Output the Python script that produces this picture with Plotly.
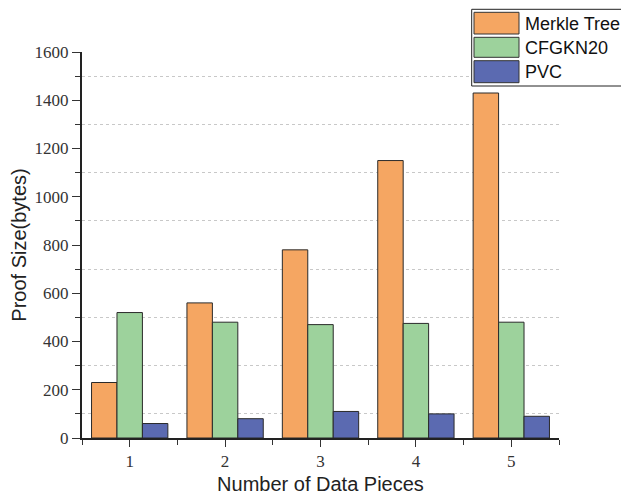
import plotly.graph_objects as go

categories = [1, 2, 3, 4, 5]
series_names = ["Merkle Tree", "CFGKN20", "PVC"]
merkle = [230, 560, 780, 1150, 1430]
cfgkn20 = [520, 480, 470, 475, 480]
pvc = [60, 80, 110, 100, 90]
y_ticks = [0, 200, 400, 600, 800, 1000, 1200, 1400, 1600]

colors = ["#F5A662", "#9DD29C", "#5B6AB1"]
series = [merkle, cfgkn20, pvc]

fig = go.Figure()
for name, vals, col in zip(series_names, series, colors):
    fig.add_trace(go.Bar(
        x=categories, y=vals, name=name,
        marker=dict(color=col, line=dict(color="#2a2a2a", width=1)),
        showlegend=False,
    ))

# page offset of the figure (default body margin of the html page)
OFF = 8
# plot area in page pixels
L, R, T, B = 82, 559, 52, 438
W, H = 629 - OFF, 495 - OFF

def px(x):
    return (x - L) / (R - L)

def py(y):
    return (B - y) / (B - T)

bx0, bx1, by0, by1 = px(471.7), px(680), py(86), py(9.3)
shapes = [
    dict(type="rect", xref="paper", yref="paper", x0=bx0, x1=bx1, y0=by0, y1=by1,
         line=dict(width=0), fillcolor="white", layer="above"),
    dict(type="path", xref="paper", yref="paper",
         path=f"M {bx1},{by1} L {bx0},{by1} L {bx0},{by0} L {bx1},{by0}",
         line=dict(color="#222", width=1), layer="above"),
]
annotations = []
rows = [(12.3, 34), (37.3, 57.3), (60.7, 82.7)]
for (t, b), name, col in zip(rows, series_names, colors):
    shapes.append(dict(type="rect", xref="paper", yref="paper",
                       x0=px(474), x1=px(519), y0=py(b), y1=py(t),
                       line=dict(color="#333", width=1), fillcolor=col, layer="above"))
    annotations.append(dict(xref="paper", yref="paper", x=px(523), y=py((t + b) / 2 + 0.5),
                            xanchor="left", yanchor="middle", text=name, showarrow=False,
                            font=dict(family="Liberation Sans, Arial", size=18, color="#111")))

fig.update_layout(
    width=W, height=H,
    margin=dict(l=L - OFF, r=W - (R - OFF), t=T - OFF, b=H - (B - OFF), pad=0, autoexpand=False),
    plot_bgcolor="white", paper_bgcolor="white",
    barmode="group", bargap=0.2, bargroupgap=0,
    shapes=shapes, annotations=annotations,
    xaxis=dict(
        range=[0.5, 5.5], tickmode="array", tickvals=categories,
        ticktext=[str(c) for c in categories], automargin=False,
        ticks="outside", ticklen=7, tickwidth=1.2, tickcolor="#333",
        showline=True, linecolor="#222", linewidth=2, showgrid=False, zeroline=False,
        tickfont=dict(family="Liberation Serif, Times New Roman, serif", size=17, color="#333"),
        minor=dict(tickmode="array", tickvals=[0.5, 1.5, 2.5, 3.5, 4.5, 5.5],
                   ticks="outside", ticklen=5, tickcolor="#333", showgrid=False),
        title=dict(text="Number of Data Pieces", standoff=9,
                   font=dict(family="Liberation Sans, Arial", size=20, color="#222")),
    ),
    yaxis=dict(
        range=[0, 1600], tickmode="array", tickvals=y_ticks, automargin=False,
        ticks="outside", ticklen=8, tickwidth=1.2, tickcolor="#333",
        showline=True, linecolor="#222", linewidth=2, showgrid=False, zeroline=False,
        tickfont=dict(family="Liberation Serif, Times New Roman, serif", size=17, color="#333"),
        minor=dict(tickmode="linear", tick0=100, dtick=200, ticks="outside", ticklen=5,
                   tickcolor="#333", showgrid=True, gridcolor="#c8c8c8",
                   griddash="dot", gridwidth=1),
        title=dict(text="Proof Size(bytes)", standoff=10,
                   font=dict(family="Liberation Sans, Arial", size=20, color="#222")),
    ),
)

fig.write_html("out.html")
